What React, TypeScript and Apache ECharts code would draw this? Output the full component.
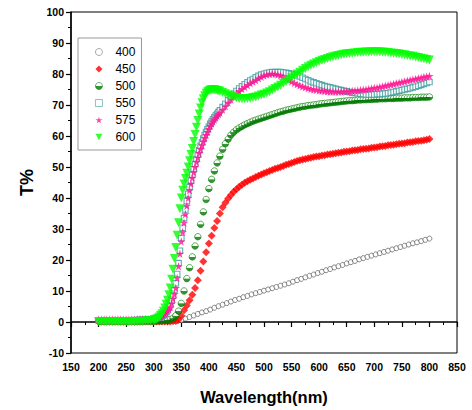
import React, { useEffect, useRef } from "react";
import * as echarts from "echarts";

// Wavelength grids (nm)
const WAVELENGTH = Array.from({ length: 121 }, (_, i) => 200 + 5 * i);
const WAVELENGTH_400 = Array.from({ length: 81 }, (_, i) => 200 + 7.5 * i);
// finer sampling in the absorption edge (300–417.5 nm) for the dense series
const WAVELENGTH_FINE = [
  ...Array.from({ length: 20 }, (_, i) => 200 + 5 * i),
  ...Array.from({ length: 48 }, (_, i) => 300 + 2.5 * i),
  ...Array.from({ length: 77 }, (_, i) => 420 + 5 * i),
];

const SERIES_NAMES = ["400", "450", "500", "550", "575", "600"];

// T% values
const T400 = [
  0.2, 0.2, 0.2, 0.2, 0.2, 0.2, 0.2, 0.2, 0.2, 0.2,
  0.2, 0.2, 0.2, 0.2, 0.2, 0.2, 0.2, 0.2, 0.2,
  0.3, 0.6, 1.1, 1.6, 2.1, 2.6, 3.1, 3.5, 4, 4.6,
  5.1, 5.6, 6.1, 6.6, 7.1, 7.5, 8, 8.4, 8.9, 9.3,
  9.7, 10.1, 10.5, 10.9, 11.3, 11.7, 12.1, 12.5, 13, 13.5,
  13.9, 14.4, 14.9, 15.3, 15.8, 16.2, 16.7, 17.1, 17.6, 18,
  18.4, 18.9, 19.3, 19.7, 20.2, 20.6, 21, 21.4, 21.8, 22.2,
  22.6, 23, 23.4, 23.8, 24.2, 24.6, 25, 25.4, 25.7, 26.1,
  26.5, 26.9,
];

const T450 = [
  0.2, 0.2, 0.2, 0.2, 0.2, 0.2, 0.2, 0.2, 0.2, 0.2,
  0.2, 0.2, 0.2, 0.2, 0.2, 0.2, 0.2, 0.2, 0.2, 0.2,
  0.2, 0.2, 0.2, 0.2, 0.2, 0.2, 0.2, 0.3, 0.3, 0.7,
  2, 3.8, 5.3, 7, 8.8, 11, 13.5, 16.5, 19.5, 22.5,
  25.3, 27.8, 30.3, 32.6, 35, 37, 38.5, 39.8, 41, 42,
  42.8, 43.6, 44.3, 44.9, 45.4, 45.9, 46.3, 46.8, 47.2, 47.6,
  48, 48.3, 48.7, 49, 49.4, 49.7, 50, 50.3, 50.7, 51,
  51.3, 51.6, 51.9, 52.2, 52.4, 52.6, 52.8, 53, 53.2, 53.4,
  53.5, 53.7, 53.8, 54, 54.1, 54.3, 54.4, 54.6, 54.7, 54.9,
  55, 55.1, 55.3, 55.4, 55.5, 55.7, 55.8, 55.9, 56, 56.2,
  56.3, 56.4, 56.6, 56.7, 56.8, 57, 57.1, 57.2, 57.3, 57.5,
  57.6, 57.7, 57.9, 58, 58.1, 58.3, 58.4, 58.5, 58.6, 58.8,
  59,
];

const T500 = [
  0.3, 0.3, 0.3, 0.3, 0.3, 0.3, 0.3, 0.3, 0.3, 0.3,
  0.3, 0.3, 0.3, 0.3, 0.3, 0.3, 0.3, 0.3, 0.3, 0.3,
  0.3, 0.3, 0.4, 0.4, 0.5, 0.6, 0.8, 1.2, 2, 3.5,
  6, 10, 14, 17.5, 21, 24.5, 27.5, 31.5, 35.5, 39.5,
  43, 46, 48.7, 51.3, 53.5, 55.7, 57.5, 59, 60.3, 61.2,
  62, 62.6, 63.1, 63.6, 64, 64.4, 64.8, 65.1, 65.4, 65.7,
  66, 66.3, 66.6, 66.9, 67.2, 67.5, 67.8, 68, 68.3, 68.5,
  68.7, 68.9, 69.1, 69.3, 69.5, 69.6, 69.8, 69.9, 70, 70.1,
  70.3, 70.4, 70.5, 70.6, 70.7, 70.8, 70.9, 71, 71.1, 71.2,
  71.3, 71.4, 71.4, 71.5, 71.6, 71.6, 71.7, 71.7, 71.8, 71.8,
  71.9, 71.9, 72, 72, 72, 72.1, 72.1, 72.1, 72.2, 72.2,
  72.2, 72.3, 72.3, 72.3, 72.4, 72.4, 72.4, 72.5, 72.5, 72.5,
  72.6,
];

// on WAVELENGTH_FINE
const T550 = [
  0.5, 0.5, 0.5, 0.5, 0.5, 0.5, 0.5, 0.5, 0.5, 0.5,
  0.5, 0.5, 0.5, 0.6, 0.6, 0.7, 0.7, 0.8, 0.8, 0.9,
  1, 1.1, 1.2, 1.35, 1.5, 1.7, 2, 2.3,
  2.7, 3.2, 3.8, 4.6, 5.5, 6.9, 8.5, 10.3,
  12.5, 15.5, 19, 23, 27, 30.4, 33.5, 36.3,
  39, 41.3, 43.5, 45.6, 47.5, 49.3, 51, 52.6,
  54, 55.4, 56.8, 58, 59.2, 60.3, 61.3, 62.2,
  63, 63.9, 64.7, 65.4, 66, 66.6, 67.2, 67.7,
  68.3, 69.3, 70.4, 71.5, 72.6, 73.6,
  74.5, 75.3, 76, 76.7, 77.3, 77.9, 78.4, 78.9, 79.4, 79.8,
  80.1, 80.3, 80.5, 80.6, 80.6, 80.6, 80.6, 80.5, 80.4, 80.2,
  80, 79.8, 79.5, 79.2, 78.8, 78.4, 78, 77.6, 77.3, 77,
  76.7, 76.4, 76.1, 75.9, 75.7, 75.5, 75.2, 75, 74.8, 74.6,
  74.4, 74.2, 74, 73.9, 73.8, 73.6, 73.5, 73.4, 73.4, 73.4,
  73.4, 73.5, 73.5, 73.6, 73.7, 73.8, 74, 74.2, 74.4, 74.6,
  74.8, 75, 75.2, 75.4, 75.7, 75.9, 76.2, 76.5, 76.8, 77.1,
  77.4,
];

const T575 = [
  0.8, 0.8, 0.8, 0.8, 0.8, 0.8, 0.8, 0.8, 0.8, 0.8,
  0.8, 0.8, 0.8, 0.8, 0.9, 0.9, 0.9, 1, 1, 1.1,
  1.2, 1.25, 1.3, 1.45, 1.6, 1.8, 2, 2.3,
  2.7, 3.1, 3.6, 4.1, 4.8, 6, 7.5, 9,
  11, 14.2, 18, 22, 26, 29, 32, 34.8,
  37.5, 40, 42.5, 44.6, 46.5, 48.3, 50, 51.6,
  53, 54.5, 55.8, 57, 58.2, 59.3, 60.3, 61.3,
  62.3, 63.2, 64, 64.7, 65.3, 65.9, 66.5, 67,
  67.5, 68.5, 69.6, 70.7, 71.8, 72.8,
  73.7, 74.5, 75.2, 75.8, 76.4, 77, 77.5, 78, 78.6, 79.1,
  79.5, 79.8, 80, 80.1, 80, 79.8, 79.5, 79.1, 78.6, 78.1,
  77.6, 77.1, 76.7, 76.3, 76, 75.7, 75.4, 75.2, 75, 74.9,
  74.7, 74.6, 74.5, 74.4, 74.3, 74.3, 74.3, 74.3, 74.3, 74.4,
  74.4, 74.4, 74.5, 74.6, 74.7, 74.8, 74.9, 75, 75.2, 75.3,
  75.5, 75.6, 75.8, 76, 76.2, 76.4, 76.6, 76.8, 77, 77.2,
  77.4, 77.6, 77.8, 78, 78.2, 78.4, 78.6, 78.8, 79, 79.2,
  79.4,
];

const T600 = [
  0.2, 0.1, 0.1, 0.1, 0.1, 0.1, 0.1, 0.1, 0.1, 0.1,
  0.1, 0.1, 0.1, 0.1, 0.2, 0.2, 0.2, 0.3, 0.3, 0.4,
  0.5, 0.7, 0.9, 1.2, 1.6, 2.1, 2.7, 3.5,
  4.5, 5.7, 7, 8.8, 11, 13.8, 17, 20.5,
  24, 28, 32, 36.5, 40, 42.5, 44.5, 46.3,
  48, 50, 52, 54, 56, 58.2, 60.5, 62.8,
  65, 67.1, 69, 70.7, 72, 73, 73.8, 74.3,
  74.6, 74.8, 74.9, 74.9, 74.9, 74.8, 74.7, 74.6,
  74.4, 74, 73.6, 73.2, 72.8, 72.5,
  72.3, 72.1, 72, 72, 72.1, 72.2, 72.4, 72.6, 72.9, 73.2,
  73.5, 73.9, 74.3, 74.8, 75.3, 75.8, 76.4, 77, 77.6, 78.2,
  78.8, 79.4, 80, 80.6, 81.2, 81.8, 82.3, 82.8, 83.2, 83.6,
  84, 84.4, 84.7, 85, 85.3, 85.6, 85.8, 86, 86.2, 86.4,
  86.5, 86.6, 86.7, 86.8, 86.9, 87, 87, 87.1, 87.1, 87.2,
  87.2, 87.2, 87.1, 87.1, 87, 86.9, 86.8, 86.7, 86.6, 86.5,
  86.3, 86.2, 86, 85.8, 85.7, 85.5, 85.3, 85.1, 84.9, 84.7,
  84.5,
];

const X_TICKS = { min: 150, max: 850, interval: 50 };
const Y_TICKS = { min: -10, max: 100, interval: 10 };

const FONT = "'Liberation Sans', Arial, sans-serif";
const STAR =
  "path://M50,0 L61,35 L98,35 L68,57 L79,91 L50,70 L21,91 L32,57 L2,35 L39,35 Z";
const DOWN_TRIANGLE = "path://M0,0 L10,0 L5,9 Z";

function pairs(xs: number[], ys: number[]) {
  return ys.map((y, i) => [xs[i], y]);
}

export default function App() {
  const ref = useRef<HTMLDivElement>(null);

  useEffect(() => {
    if (!ref.current) return;
    const chart = echarts.init(ref.current, null, { renderer: "svg" });
    const halfGreen = new echarts.graphic.LinearGradient(0, 0, 0, 1, [
      { offset: 0, color: "#ffffff" },
      { offset: 0.45, color: "#ffffff" },
      { offset: 0.55, color: "#007a00" },
      { offset: 1, color: "#007a00" },
    ]);
    const axisCommon = {
      axisLine: { show: true, lineStyle: { color: "#000", width: 1.5 } },
      axisTick: { show: true, length: 5, lineStyle: { color: "#000", width: 1.2 } },
      minorTick: { show: true, splitNumber: 2, length: 3, lineStyle: { color: "#000", width: 1 } },
      splitLine: { show: false },
    };
    const option: any = {
      animation: false,
      backgroundColor: "#ffffff",
      grid: {
        left: 71,
        right: 15,
        top: 12,
        bottom: 56,
        show: true,
        borderColor: "#000",
        borderWidth: 1,
      },
      legend: {
        orient: "vertical",
        left: 78,
        top: 38,
        itemWidth: 7,
        itemHeight: 7,
        itemGap: 5,
        padding: [8, 6, 7, 17],
        borderColor: "#999",
        borderWidth: 1,
        data: [
          { name: SERIES_NAMES[0], itemStyle: { borderWidth: 0.7, borderColor: "#666" } },
          { name: SERIES_NAMES[1] },
          { name: SERIES_NAMES[2], itemStyle: { borderWidth: 0.7 } },
          { name: SERIES_NAMES[3], itemStyle: { borderWidth: 0.9, borderColor: "#5aafb0" } },
          { name: SERIES_NAMES[4] },
          { name: SERIES_NAMES[5] },
        ],
        textStyle: {
          fontFamily: FONT,
          fontSize: 12,
          color: "#000",
          padding: [0, 0, 0, 8],
        },
      },
      xAxis: {
        type: "value",
        min: X_TICKS.min,
        max: X_TICKS.max,
        interval: X_TICKS.interval,
        name: "Wavelength(nm)",
        nameLocation: "middle",
        nameGap: 35,
        nameTextStyle: {
          fontFamily: FONT,
          fontSize: 16.5,
          fontWeight: "bold",
          color: "#000",
        },
        ...axisCommon,
        axisLabel: {
          fontFamily: FONT,
          fontSize: 10.5,
          fontWeight: "bold",
          color: "#000",
          margin: 8,
        },
      },
      yAxis: {
        type: "value",
        min: Y_TICKS.min,
        max: Y_TICKS.max,
        interval: Y_TICKS.interval,
        name: "T%",
        nameLocation: "middle",
        nameGap: 30,
        nameTextStyle: {
          fontFamily: FONT,
          fontSize: 18,
          fontWeight: "bold",
          color: "#000",
        },
        ...axisCommon,
        axisLabel: {
          fontFamily: FONT,
          fontSize: 10.5,
          fontWeight: "bold",
          color: "#000",
          margin: 7,
        },
      },
      series: [
        {
          name: "400",
          type: "scatter",
          data: pairs(WAVELENGTH_400, T400),
          symbol: "circle",
          symbolSize: 5,
          itemStyle: { color: "#ffffff", borderColor: "#444", borderWidth: 0.8 },
        },
        {
          name: "450",
          type: "scatter",
          data: pairs(WAVELENGTH, T450),
          symbol: "diamond",
          symbolSize: 8,
          itemStyle: { color: "#ff0000" },
        },
        {
          name: "500",
          type: "scatter",
          data: pairs(WAVELENGTH, T500),
          symbol: "circle",
          symbolSize: 6.5,
          itemStyle: { color: halfGreen, borderColor: "#007a00", borderWidth: 0.8 },
        },
        {
          name: "550",
          type: "scatter",
          data: pairs(WAVELENGTH_FINE, T550),
          symbol: "rect",
          symbolSize: 5.5,
          itemStyle: { color: "#ffffff", borderColor: "#3b9a9c", borderWidth: 1.1 },
        },
        {
          name: "575",
          type: "scatter",
          data: pairs(WAVELENGTH_FINE, T575),
          symbol: STAR,
          symbolSize: 8.5,
          itemStyle: { color: "#ff1493" },
        },
        {
          name: "600",
          type: "scatter",
          data: pairs(WAVELENGTH_FINE, T600),
          symbol: DOWN_TRIANGLE,
          symbolSize: 9,
          itemStyle: { color: "#00ff00" },
        },
      ],
    };
    chart.setOption(option);
    return () => chart.dispose();
  }, []);

  return (
    <div
      ref={ref}
      style={{ position: "fixed", left: 0, top: 0, width: 472, height: 410, background: "#fff" }}
    />
  );
}
